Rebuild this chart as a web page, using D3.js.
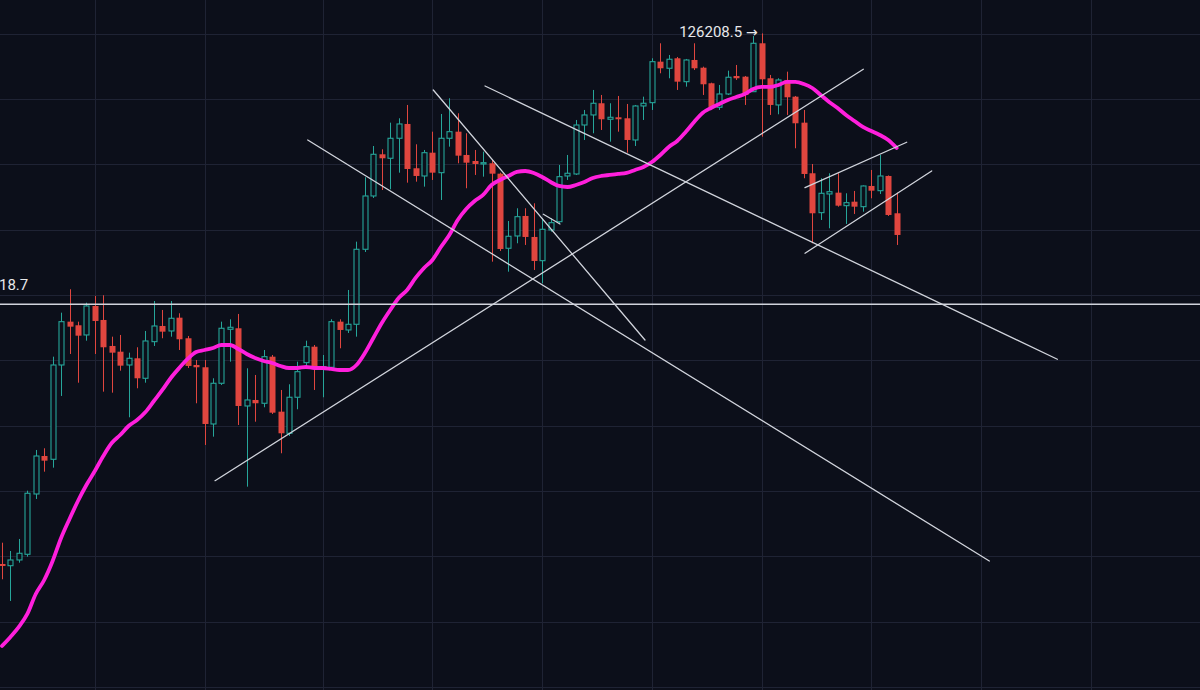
<!DOCTYPE html>
<html>
<head>
<meta charset="utf-8">
<script src="https://cdn.jsdelivr.net/npm/d3@7"></script>
<style>
  html, body { margin: 0; padding: 0; background: #0c0f1a; overflow: hidden; }
  svg { display: block; }
</style>
</head>
<body>
<svg id="chart" width="1200" height="690"></svg>
<script>
// ---- Data ----
const candleIndex = d3.range(107);
const opens = [109966,109914,110089,110263,112109,113272,113171,116058,117384,117274,116977,117864,117436,116640,116465,116058,116263,115651,116772,117252,117099,117506,116876,116058,115988,114252,115498,117151,117182,114803,114987,114886,116312,114629,113967,115070,116129,116618,115957,115988,117384,117130,117304,119600,121232,122508,122386,122998,123436,122080,121844,122557,121945,122998,123200,122487,122303,122211,122233,121914,119631,120007,120620,119977,119251,120191,120445,121844,121905,123405,123712,124070,123580,123641,123610,122946,123987,124088,125343,125141,125447,124731,125395,125159,124682,123947,124354,124905,124884,124425,125906,124835,124018,124783,124272,123476,121927,120721,121293,121333,120935,121057,120904,121538,121394,121844,120702];
const highs = [110618,110364,110732,112210,113456,113508,116312,117659,118376,117384,117965,118171,118192,116925,116977,116435,116600,117099,118017,117742,118017,117641,116946,116211,116211,115651,117384,117457,117620,115957,115752,116517,116364,115293,115467,116159,116802,116670,116364,117457,117457,118354,119833,121804,122762,122661,123476,123610,124018,122814,122640,123200,123742,124223,123763,123151,122640,122588,122334,121945,120466,120855,120855,121008,120549,120549,122181,122487,123558,123865,124477,124324,124070,124293,124048,124018,124272,125447,125906,125548,125487,125426,125906,125190,124700,124630,125068,125242,124905,126130,126208.5,124936,124835,125037,124293,123865,122211,121774,121927,121927,121314,121385,121554,122028,122487,121860,121333];
const lows = [109498,108834,110006,110190,111956,112792,112914,115109,116395,115516,116802,116395,115241,115210,115884,114457,115345,115516,116640,116876,116925,116517,115966,114886,113609,113863,115446,116159,114221,112333,114322,114763,114558,113355,113885,114702,115988,115293,115070,115905,116569,117038,116925,119517,121171,121415,121437,121945,121639,121670,121517,121722,121109,122741,122233,121468,121875,121823,119221,119548,118914,119784,119732,118966,118559,120139,120405,121722,121875,122946,123151,123252,122894,123200,122557,122762,123558,123865,124988,124835,124477,124578,125089,124324,123886,123865,124324,124783,124018,124416,123047,123712,123733,123712,122692,121774,119784,120497,120243,120904,120375,120681,120751,121161,121293,120620,119732];
const closes = [109905,110089,110294,112131,113272,113129,116058,117384,117231,116955,117864,117405,116600,116435,116037,116263,115651,116793,117252,117078,117488,116845,116028,115988,114252,115498,117182,117212,114803,114987,114886,116312,114598,113967,115070,115853,116618,115957,116006,117384,117130,117304,119600,121232,122508,122386,122998,123436,122058,121844,122557,121945,122998,123200,122466,122251,122211,122251,121914,119609,119998,120598,119977,119242,120212,120414,121823,121927,123405,123712,124070,123580,123641,123580,122946,123987,124070,125343,125141,125417,124731,125395,125141,124651,123947,124354,124866,124835,124324,125906,124804,124018,124783,124253,123457,121905,120702,121314,121363,120935,121027,120904,121538,121394,121844,120650,120038];
const movingAverage = [107456,107731,108038,108436,109048,109476,110058,110762,111344,111895,112385,112813,113272,113670,113915,114191,114374,114619,114956,115293,115660,115966,116242,116456,116517,116579,116670,116670,116548,116395,116272,116181,116119,116028,115966,115966,115997,115966,115966,115936,115905,115905,116058,116426,116885,117344,117742,118109,118354,118722,119028,119273,119671,120038,120497,120834,121079,121263,121569,121722,121844,121967,121997,121936,121814,121660,121538,121507,121569,121660,121783,121844,121875,121905,121936,122028,122120,122273,122487,122732,122916,123191,123497,123773,123926,124048,124171,124262,124354,124507,124569,124569,124630,124722,124722,124660,124538,124324,124110,123926,123712,123528,123344,123222,123099,122946,122701];

// horizontal price grid and time grid (candle indices)
const gridPrices = [126200,124200,122200,120200,118200,116200,114200,112200,110200,108200,106200];
const gridIndices = [11,24,38,51,64,77,90,103,116,129];

// drawn lines: [startIndex, startPrice, endIndex, endPrice]
const trendLines = [
  [25.24, 112516, 102.05, 125110],
  [36.22, 122946, 116.98, 110058],
  [51.10, 124477, 76.18, 116824],
  [57.23, 124599, 125.04, 116233],
  [95.14, 121486, 107.19, 122876],
  [95.14, 119478, 110.15, 121997],
  [64.14, 120672, 66.11, 120375]
];
const levelPrice = 117918.7;
const levelLabel = "18.7";
const highIndex = 90;
const highLabel = "126208.5";
const highArrow = "→";

// ---- Drawing ----
const W = 1200, H = 690;
const svg = d3.select("#chart");
const colors = { bg: "#0c0f1a", grid: "#1f2334", up: "#26a69a", down: "#e0463f", ma: "#ff1fdc", line: "#d1d4dc", text: "#e8e8ea" };

svg.append("rect").attr("width", W).attr("height", H).attr("fill", colors.bg);

const x = d3.scaleLinear().domain([0, 142]).range([2, 1200.5]);
const y = d3.scaleLinear().domain([levelPrice, 126208.5]).range([304.2, 33.4]);

const candles = candleIndex.map(i => ({ i, o: opens[i], h: highs[i], l: lows[i], c: closes[i] }));

// grid
svg.append("g").selectAll("line").data(gridPrices).join("line")
  .attr("x1", 0).attr("x2", W)
  .attr("y1", d => Math.round(y(d)) + 0.5).attr("y2", d => Math.round(y(d)) + 0.5)
  .attr("stroke", colors.grid).attr("stroke-width", 1);
svg.append("g").selectAll("line").data(gridIndices).join("line")
  .attr("y1", 0).attr("y2", H)
  .attr("x1", d => Math.round(x(d)) + 0.5).attr("x2", d => Math.round(x(d)) + 0.5)
  .attr("stroke", colors.grid).attr("stroke-width", 1);

// candles
const bw = 5;
const g = svg.append("g");
candles.forEach(d => {
  const up = d.c >= d.o;
  const cx = Math.round(x(d.i)) + 0.5;
  const top = y(Math.max(d.o, d.c)), bot = y(Math.min(d.o, d.c));
  const col = up ? colors.up : colors.down;
  if (up) {
    g.append("line").attr("x1", cx).attr("x2", cx).attr("y1", y(d.h)).attr("y2", top)
      .attr("stroke", col).attr("stroke-width", 1);
    g.append("line").attr("x1", cx).attr("x2", cx).attr("y1", bot).attr("y2", y(d.l))
      .attr("stroke", col).attr("stroke-width", 1);
    g.append("rect").attr("x", cx - bw / 2).attr("y", top)
      .attr("width", bw).attr("height", Math.max(1, bot - top))
      .attr("fill", colors.bg).attr("stroke", col).attr("stroke-width", 1.1);
  } else {
    g.append("line").attr("x1", cx).attr("x2", cx).attr("y1", y(d.h)).attr("y2", y(d.l))
      .attr("stroke", col).attr("stroke-width", 1);
    g.append("rect").attr("x", cx - bw / 2 - 0.5).attr("y", top)
      .attr("width", bw + 1).attr("height", Math.max(1.5, bot - top))
      .attr("fill", col);
  }
});

// moving average
svg.append("path")
  .datum(candleIndex)
  .attr("d", d3.line().x(i => x(i)).y(i => y(movingAverage[i])).curve(d3.curveMonotoneX))
  .attr("fill", "none").attr("stroke", colors.ma).attr("stroke-width", 3.8)
  .attr("stroke-linecap", "round").attr("stroke-linejoin", "round");

// horizontal level
svg.append("line").attr("x1", 0).attr("x2", W)
  .attr("y1", y(levelPrice)).attr("y2", y(levelPrice))
  .attr("stroke", colors.line).attr("stroke-width", 1.4);

// trend lines
svg.append("g").selectAll("line").data(trendLines).join("line")
  .attr("x1", d => x(d[0])).attr("y1", d => y(d[1]))
  .attr("x2", d => x(d[2])).attr("y2", d => y(d[3]))
  .attr("stroke", colors.line).attr("stroke-width", 1.3).attr("stroke-linecap", "round");

// labels
svg.append("text").attr("x", -1).attr("y", y(levelPrice) - 14.5)
  .attr("fill", colors.text).attr("font-family", "Roboto, 'Liberation Sans', sans-serif")
  .attr("font-size", 15).text(levelLabel);

const hl = svg.append("text").attr("x", x(highIndex) - 4).attr("y", y(highs[highIndex]) + 4)
  .attr("text-anchor", "end")
  .attr("fill", colors.text).attr("font-family", "Roboto, 'Liberation Sans', sans-serif")
  .attr("font-size", 15);
hl.append("tspan").text(highLabel + " ");
hl.append("tspan").attr("font-family", "'DejaVu Sans', sans-serif").attr("font-size", 14).text(highArrow);
</script>
</body>
</html>
